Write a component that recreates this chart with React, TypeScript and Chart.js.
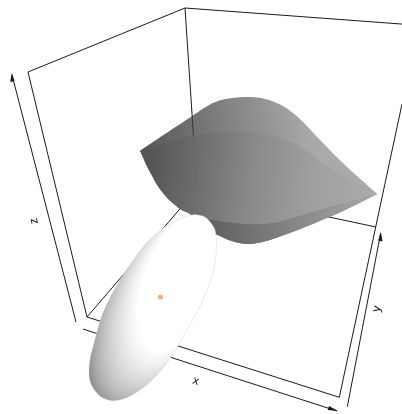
import React, { useEffect, useRef } from "react";
import { Chart, registerables } from "chart.js";

Chart.register(...registerables);

type P = { x: number; y: number };
const pts = (a: number[][]): P[] => a.map(([x, y]) => ({ x, y }));

// Box edges (scale units equal picture pixels)
const boxBack = [[87, 317], [197, 189], [185, 8]];
const boxTop = [[28, 72], [185, 8], [405, 24.3]];
const boxLeft = [[28, 72], [87, 317], [339.3, 397.3], [402, 104]];
const boxFloorRight = [[197, 189], [376, 227]];

const axisZ = [[76, 322], [12, 75]];
const axisX = [[83, 329], [337, 411]];
const axisY = [[347.3, 406.7], [380.7, 233]];
const headZ = [[11.7, 73], [10.2, 82], [14.6, 81]];
const headX = [[338, 411], [329, 406], [327.7, 410]];
const headY = [[380.8, 232], [378.2, 240.5], [382.6, 241.5]];

// Lens
const lensTop = [
  [140, 150.7], [140, 150.7], [165, 134], [190, 117.5], [205, 107.5], [218, 101], [233, 98], [250, 97], [265, 99],
  [280, 104.5], [293, 113], [305, 124], [320, 140], [345, 165], [377.3, 194], [377.3, 194],
];
const lensBottom = [
  [345, 210], [315, 223], [295, 231], [280, 236.5], [268, 240.5], [257, 243], [247, 244], [232, 241], [220, 236],
  [205, 228], [190, 214], [180, 209], [163, 193], [150, 172], [140, 150.7],
];
const lensSilhouette = [...lensTop, ...lensBottom];
const lensLip = [
  [140, 150.7], [140, 150.7], [170, 141.7], [197, 135], [230, 132.7], [263, 134.3], [297, 145], [330, 168.3],
  [377.3, 194], [377.3, 194],
];
const lensFront = [...lensLip, ...lensBottom];
const lensRim = [
  [200, 217], [200, 217], [213, 220], [247, 224], [273, 223], [297, 216.5], [330, 206.7], [377.3, 194], [377.3, 194],
];
const lensUnder = [...lensRim, ...lensBottom.slice(0, 10), [200, 217]];

// Ellipsoid
const ellipsoid = [
  [195, 214.5], [204, 216.5], [210, 221.7], [215, 230], [216.5, 243], [215, 263], [210, 282], [203, 300], [193, 319],
  [183, 337], [167, 363], [152, 380], [140, 390], [127, 397.5], [113, 400.7], [103, 398], [97, 393], [91, 384],
  [89, 373], [90, 360], [93, 347], [103, 313], [120, 280], [143, 247], [157, 233], [170, 223], [183, 217], [195, 214.5],
];
const marker = [[160.5, 297]];

const labels = [
  { text: "x", x: 196, y: 381, rot: 18 },
  { text: "y", x: 377, y: 309, rot: -78 },
  { text: "z", x: 34, y: 221, rot: -103 },
];

function ellipsoidTexture(): HTMLCanvasElement {
  const c = document.createElement("canvas");
  c.width = 402;
  c.height = 414;
  const g = c.getContext("2d")!;
  const img = g.createImageData(402, 414);
  const cx = 153.5, cy = 308, a = 106, b = 48;
  const ang = Math.atan2(-92, 50);
  const ca = Math.cos(ang), sa = Math.sin(ang);
  const L = [0.55, -0.3, 0.78];
  for (let y = 200; y < 414; y++) {
    for (let x = 80; x < 225; x++) {
      const dx = x + 0.5 - cx, dy = y + 0.5 - cy;
      const u = (dx * ca + dy * sa) / a;
      const v = (-dx * sa + dy * ca) / b;
      const r2 = Math.min(0.995, u * u + v * v);
      const w = Math.sqrt(1 - r2);
      const nx = u * ca - v * sa, ny = u * sa + v * ca;
      const d = nx * L[0] + ny * L[1] + w * L[2];
      const s = Math.min(1, 0.74 + 0.42 * d);
      const i = (y * 402 + x) * 4;
      const col = Math.round(255 * s);
      img.data[i] = col; img.data[i + 1] = col; img.data[i + 2] = col; img.data[i + 3] = 255;
    }
  }
  g.putImageData(img, 0, 0);
  return c;
}

export default function App() {
  const ref = useRef<HTMLCanvasElement | null>(null);
  useEffect(() => {
    document.body.style.margin = "0";
    const canvas = ref.current!;
    const ctx = canvas.getContext("2d")!;

    const grad = (x0: number, y0: number, x1: number, y1: number, stops: [number, string][]) => {
      const g = ctx.createLinearGradient(x0, y0, x1, y1);
      stops.forEach(([o, c]) => g.addColorStop(o, c));
      return g;
    };
    const backFill = grad(140, 150, 310, 120, [
      [0, "rgba(28,28,28,0.75)"],
      [1, "rgba(141,141,141,0.75)"],
    ]);
    const frontFill = grad(150, 165, 377, 194, [
      [0, "rgba(85,85,85,0.92)"],
      [0.45, "rgba(138,138,138,0.92)"],
      [0.7, "rgba(158,158,158,0.92)"],
      [1, "rgba(172,172,172,0.92)"],
    ]);
    const underFill = grad(205, 225, 377, 194, [
      [0, "rgba(88,88,88,0.8)"],
      [0.5, "rgba(128,128,128,0.8)"],
      [1, "rgba(168,168,168,0.8)"],
    ]);
    const pattern = ctx.createPattern(ellipsoidTexture(), "no-repeat")!;

    const line = (d: number[][]) => ({
      data: pts(d), showLine: true, pointRadius: 0, borderColor: "#1a1a1a", borderWidth: 1, fill: false, tension: 0,
    });
    const shape = (d: number[][], bg: any, tension = 0.4) => ({
      data: pts(d), showLine: true, pointRadius: 0, borderWidth: 0, borderColor: "rgba(0,0,0,0)",
      backgroundColor: bg, fill: "shape", tension,
    });

    const textPlugin = {
      id: "axisLetters",
      afterDatasetsDraw(chart: any) {
        const c = chart.ctx;
        const sx = chart.scales.x, sy = chart.scales.y;
        labels.forEach((l) => {
          c.save();
          c.translate(sx.getPixelForValue(l.x), sy.getPixelForValue(l.y));
          c.rotate((l.rot * Math.PI) / 180);
          c.font = "12px 'Liberation Sans'";
          c.fillStyle = "#111";
          c.textAlign = "center";
          c.textBaseline = "middle";
          c.fillText(l.text, 0, 0);
          c.restore();
        });
      },
    };

    const chart = new Chart(canvas, {
      type: "scatter",
      data: {
        datasets: [
          { data: pts(marker), pointRadius: 2.6, pointBackgroundColor: "#f4b478", pointBorderWidth: 0 },
          { ...shape(ellipsoid, pattern, 0.3), borderWidth: 0.7, borderColor: "rgba(205,205,205,0.6)" },
          shape(lensUnder, underFill),
          shape(lensFront, frontFill),
          shape(lensSilhouette, backFill),
          shape(headZ, "#1a1a1a", 0),
          shape(headX, "#1a1a1a", 0),
          shape(headY, "#1a1a1a", 0),
          line(axisZ),
          line(axisX),
          line(axisY),
          line(boxBack),
          line(boxTop),
          line(boxLeft),
          line(boxFloorRight),
        ] as any,
      },
      options: {
        responsive: false,
        animation: false,
        layout: { padding: 0, autoPadding: false },
        plugins: { legend: { display: false }, tooltip: { enabled: false } },
        events: [],
        scales: {
          x: { type: "linear", min: 0, max: 402, display: false },
          y: { type: "linear", min: 0, max: 414, reverse: true, display: false },
        },
      },
      plugins: [textPlugin],
    });
    return () => chart.destroy();
  }, []);
  return <canvas ref={ref} width={402} height={414} style={{ display: "block" }} />;
}
